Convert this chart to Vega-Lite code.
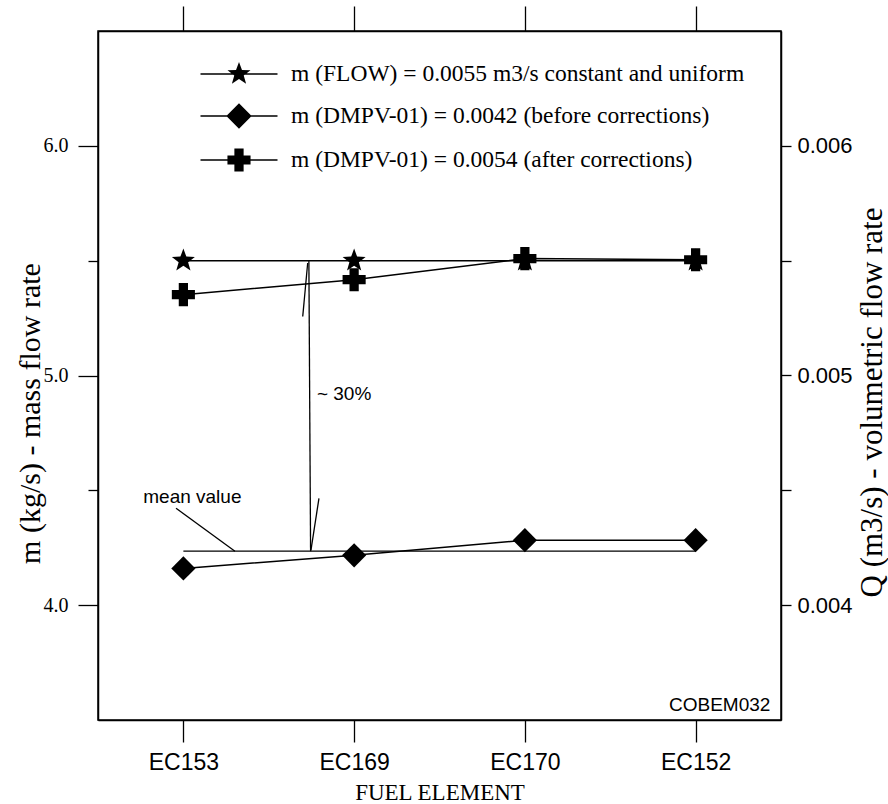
{
  "$schema": "https://vega.github.io/schema/vega-lite/v6.json",
  "width": 683,
  "height": 689,
  "autosize": {"type": "none"},
  "padding": {"left": 98, "top": 31, "right": 107, "bottom": 84},
  "background": "white",
  "config": {
    "view": {"stroke": "black", "strokeWidth": 1.5},
    "axis": {"domainColor": "black", "domainWidth": 1.5, "tickColor": "black", "tickWidth": 1.3, "labelColor": "black", "titleColor": "black", "grid": false}
  },
  "datasets": {
    "flow": [
      {"element": "EC153", "idx": 1, "series": "m (FLOW) = 0.0055 m3/s constant and uniform", "Q": 0.0055},
      {"element": "EC169", "idx": 2, "series": "m (FLOW) = 0.0055 m3/s constant and uniform", "Q": 0.0055},
      {"element": "EC170", "idx": 3, "series": "m (FLOW) = 0.0055 m3/s constant and uniform", "Q": 0.0055},
      {"element": "EC152", "idx": 4, "series": "m (FLOW) = 0.0055 m3/s constant and uniform", "Q": 0.0055}
    ],
    "dmpv": [
      {"element": "EC153", "idx": 1, "series": "m (DMPV-01) = 0.0042 (before corrections)", "m": 4.16},
      {"element": "EC169", "idx": 2, "series": "m (DMPV-01) = 0.0042 (before corrections)", "m": 4.217},
      {"element": "EC170", "idx": 3, "series": "m (DMPV-01) = 0.0042 (before corrections)", "m": 4.283},
      {"element": "EC152", "idx": 4, "series": "m (DMPV-01) = 0.0042 (before corrections)", "m": 4.283},
      {"element": "EC153", "idx": 1, "series": "m (DMPV-01) = 0.0054 (after corrections)", "m": 5.352},
      {"element": "EC169", "idx": 2, "series": "m (DMPV-01) = 0.0054 (after corrections)", "m": 5.417},
      {"element": "EC170", "idx": 3, "series": "m (DMPV-01) = 0.0054 (after corrections)", "m": 5.509},
      {"element": "EC152", "idx": 4, "series": "m (DMPV-01) = 0.0054 (after corrections)", "m": 5.504}
    ],
    "segments": [
      {"what": "mean value", "x": 1, "x2": 4, "y": 4.235, "y2": 4.235},
      {"what": "difference", "x": 1.735, "x2": 1.745, "y": 5.5, "y2": 4.235},
      {"what": "arrow top", "x": 1.728, "x2": 1.699, "y": 5.49, "y2": 5.257},
      {"what": "arrow bottom", "x": 1.747, "x2": 1.794, "y": 4.239, "y2": 4.465},
      {"what": "mean leader", "x": 0.957, "x2": 1.302, "y": 4.422, "y2": 4.235}
    ],
    "notes": [
      {"text": "~ 30%", "x": 1.782, "y": 4.894},
      {"text": "mean value", "x": 0.765, "y": 4.446},
      {"text": "COBEM032", "x": 3.844, "y": 3.54}
    ]
  },
  "layer": [
    {
      "data": {"name": "flow"},
      "encoding": {
        "x": {"field": "idx", "type": "quantitative", "scale": {"domain": [0.5, 4.5], "nice": false, "zero": false},
              "axis": {"orient": "top", "values": [1, 2, 3, 4], "labels": false, "tickSize": 25, "title": null}},
        "y": {"field": "Q", "type": "quantitative", "scale": {"domain": [0.0035, 0.0065], "nice": false, "zero": false},
              "axis": {"orient": "right", "values": [0.004, 0.0045, 0.005, 0.0055, 0.006],
                       "labelExpr": "(round(datum.value * 10000) % 10 === 0) ? format(datum.value, '.3f') : ''",
                       "tickSize": 10, "labelFont": "Liberation Sans", "labelFontSize": 22, "labelPadding": 6,
                       "title": "Q (m3/s) - volumetric flow rate", "titleFont": "Liberation Serif", "titleFontSize": 31,
                       "titleFontWeight": "normal", "titleAngle": 270, "titleX": 100, "titleY": 371,
                       "titleAlign": "center", "titleBaseline": "alphabetic"}}
      },
      "layer": [
        {"mark": {"type": "line", "color": "black", "strokeWidth": 1.5}, "encoding": {"detail": {"field": "series"}}},
        {"mark": {"type": "point", "filled": true, "opacity": 1, "color": "black", "size": 484,
                  "shape": "M0,-1.1L0.27,-0.37L1.046,-0.34L0.43,0.14L0.647,0.89L0,0.46L-0.647,0.89L-0.43,0.14L-1.046,-0.34L-0.27,-0.37Z"}}
      ]
    },
    {
      "encoding": {
        "x": {"type": "quantitative", "scale": {"domain": [0.5, 4.5], "nice": false, "zero": false},
              "axis": {"orient": "bottom", "values": [1, 2, 3, 4],
                       "labelExpr": "datum.value === 1 ? 'EC153' : datum.value === 2 ? 'EC169' : datum.value === 3 ? 'EC170' : 'EC152'",
                       "tickSize": 22, "labelFont": "Liberation Sans", "labelFontSize": 23, "labelPadding": 9,
                       "title": "FUEL ELEMENT", "titleFont": "Liberation Serif", "titleFontSize": 23, "titleFontWeight": "normal", "titlePadding": 7}},
        "y": {"type": "quantitative", "scale": {"domain": [3.5, 6.5], "nice": false, "zero": false},
              "axis": {"orient": "left", "values": [4, 4.5, 5, 5.5, 6],
                       "labelExpr": "datum.value % 1 === 0 ? format(datum.value, '.1f') : ''",
                       "tickSize": {"condition": {"test": "datum.value % 1 === 0", "value": 20}, "value": 10},
                       "labelFont": "Liberation Serif", "labelFontSize": 20, "labelPadding": 10,
                       "title": "m (kg/s) - mass flow rate", "titleFont": "Liberation Serif", "titleFontSize": 30,
                       "titleFontWeight": "normal", "titleAngle": 270, "titleX": -59, "titleY": 382,
                       "titleAlign": "center", "titleBaseline": "alphabetic"}}
      },
      "layer": [
        {"data": {"name": "segments"}, "mark": {"type": "rule", "color": "black", "strokeWidth": 1.3},
         "encoding": {"x": {"field": "x", "type": "quantitative"}, "x2": {"field": "x2"}, "y": {"field": "y", "type": "quantitative"}, "y2": {"field": "y2"}}},
        {"data": {"name": "dmpv"}, "mark": {"type": "line", "color": "black", "strokeWidth": 1.5},
         "encoding": {"x": {"field": "idx", "type": "quantitative"}, "y": {"field": "m", "type": "quantitative"}, "detail": {"field": "series"}}},
        {"data": {"name": "dmpv"}, "transform": [{"filter": "indexof(datum.series, 'before') >= 0"}],
         "mark": {"type": "point", "filled": true, "opacity": 1, "color": "black", "size": 484, "shape": "M0,-1.1L1.1,0L0,1.1L-1.1,0Z"},
         "encoding": {"x": {"field": "idx", "type": "quantitative"}, "y": {"field": "m", "type": "quantitative"}}},
        {"data": {"name": "dmpv"}, "transform": [{"filter": "indexof(datum.series, 'after') >= 0"}],
         "mark": {"type": "point", "filled": true, "opacity": 1, "color": "black", "size": 484, "shape": "M-0.42,-1.05H0.42V-0.42H1.05V0.42H0.42V1.05H-0.42V0.42H-1.05V-0.42H-0.42Z"},
         "encoding": {"x": {"field": "idx", "type": "quantitative"}, "y": {"field": "m", "type": "quantitative"}}},
        {"data": {"name": "dmpv"},
         "mark": {"type": "point", "filled": true, "opacity": 0, "color": "black", "size": 484},
         "encoding": {"x": {"field": "idx", "type": "quantitative"}, "y": {"field": "m", "type": "quantitative"},
           "shape": {"field": "series", "type": "nominal",
             "scale": {"domain": ["m (FLOW) = 0.0055 m3/s constant and uniform", "m (DMPV-01) = 0.0042 (before corrections)", "m (DMPV-01) = 0.0054 (after corrections)"],
                       "range": ["M-3.5,-0.065H3.5V0.065H-3.5ZM0,-1.1L0.27,-0.37L1.046,-0.34L0.43,0.14L0.647,0.89L0,0.46L-0.647,0.89L-0.43,0.14L-1.046,-0.34L-0.27,-0.37Z",
                                 "M-3.5,-0.065H3.5V0.065H-3.5ZM0,-1.15L1.15,0L0,1.15L-1.15,0Z",
                                 "M-3.5,-0.065H3.5V0.065H-3.5ZM-0.42,-1.05H0.42V-0.42H1.05V0.42H0.42V1.05H-0.42V0.42H-1.05V-0.42H-0.42Z"]},
             "legend": {"orient": "none", "legendX": 129, "legendY": 31, "title": null, "padding": 0,
                        "labelFont": "Liberation Serif", "labelFontSize": 23.5, "labelColor": "black", "labelOffset": 40,
                        "symbolSize": 484, "rowPadding": 13, "symbolFillColor": "black", "symbolStrokeColor": "black",
                        "symbolStrokeWidth": 1.5, "symbolOpacity": 1, "labelLimit": 600}}}},
        {"data": {"name": "notes"}, "mark": {"type": "text", "align": "left", "baseline": "alphabetic", "font": "Liberation Sans", "fontSize": 19, "color": "black"},
         "encoding": {"x": {"field": "x", "type": "quantitative"}, "y": {"field": "y", "type": "quantitative"}, "text": {"field": "text"}}}
      ]
    }
  ],
  "resolve": {"scale": {"y": "independent"}, "axis": {"x": "independent", "y": "independent"}}
}
